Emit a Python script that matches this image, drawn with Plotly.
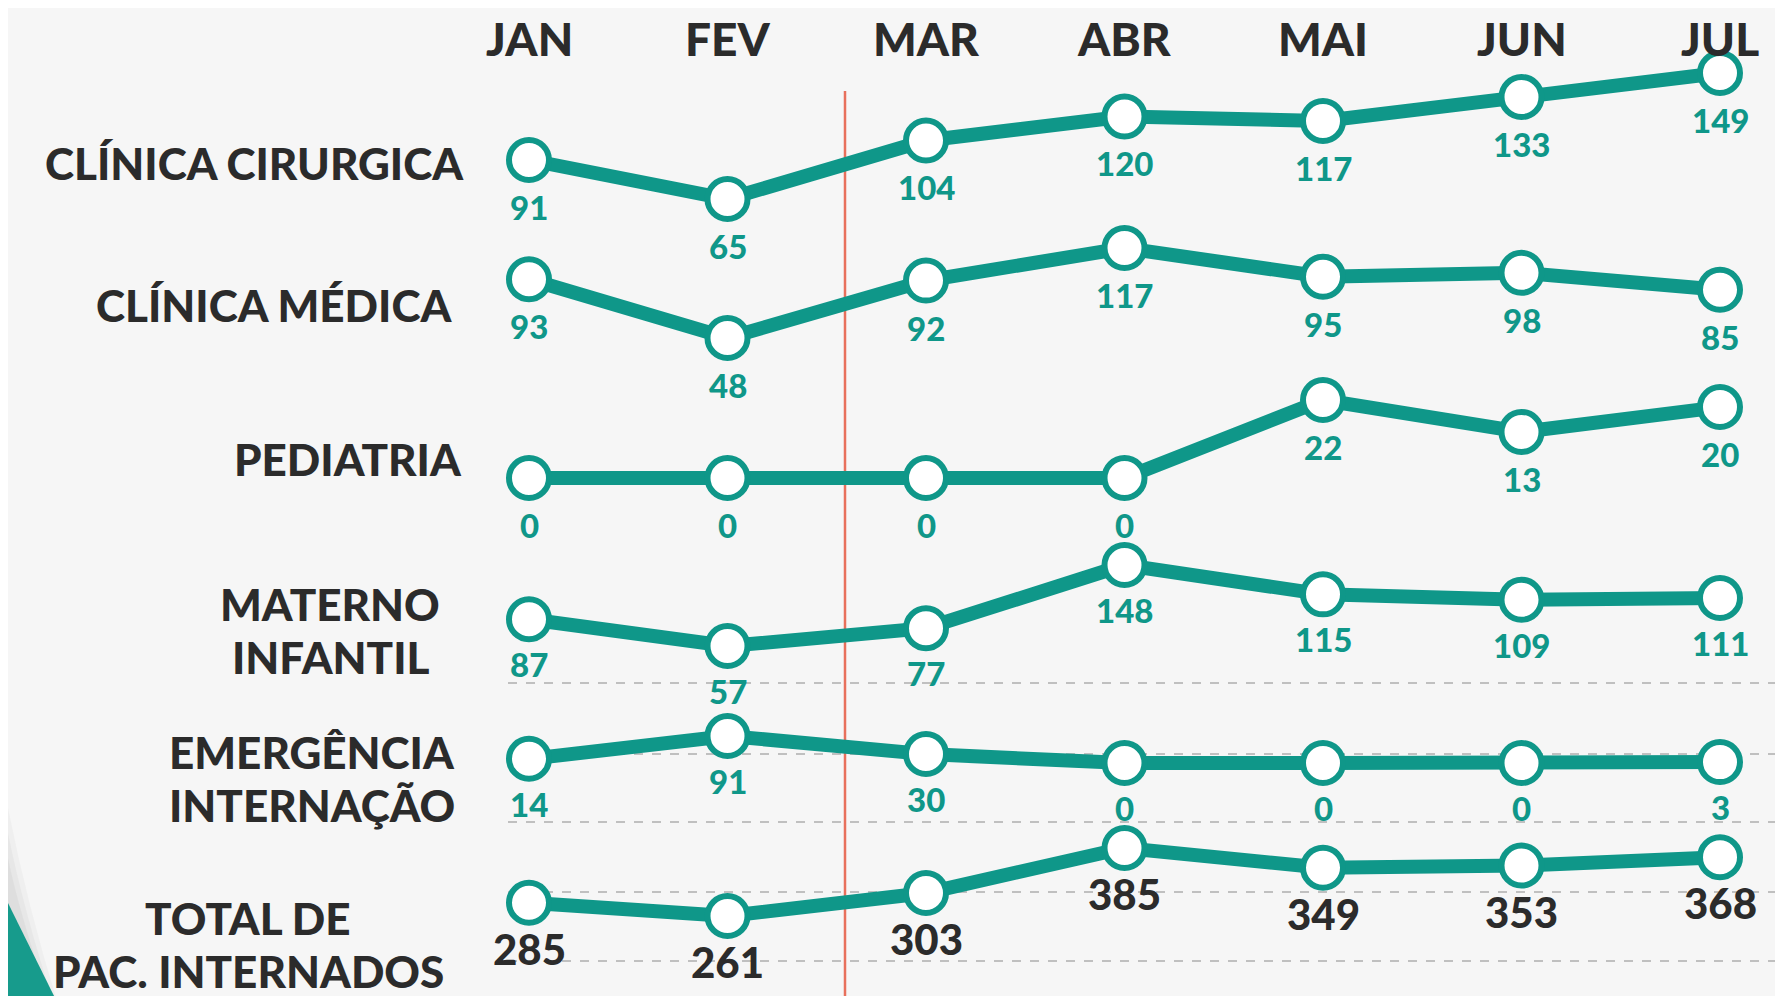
import plotly.graph_objects as go

# ---------------- data ----------------
months = ["JAN", "FEV", "MAR", "ABR", "MAI", "JUN", "JUL"]
row_names = [["CLÍNICA CIRURGICA"], ["CLÍNICA MÉDICA"], ["PEDIATRIA"],
             ["MATERNO", "INFANTIL"], ["EMERGÊNCIA", "INTERNAÇÃO"],
             ["TOTAL DE", "PAC. INTERNADOS"]]
clinica_cirurgica = [91, 65, 104, 120, 117, 133, 149]
clinica_medica = [93, 48, 92, 117, 95, 98, 85]
pediatria = [0, 0, 0, 0, 22, 13, 20]
materno_infantil = [87, 57, 77, 148, 115, 109, 111]
emergencia_internacao = [14, 91, 30, 0, 0, 0, 3]
total_internados = [285, 261, 303, 385, 349, 353, 368]
series = [clinica_cirurgica, clinica_medica, pediatria,
          materno_infantil, emergencia_internacao, total_internados]

# ---------------- styles / layout ----------------
W, H = 1783, 996
TEAL = "#0f9789"
DARK = "#2b2b2b"
BG = "#f6f6f6"
FONT = "Lato"
PAD = 22          # px of padding around each row band (keeps thick lines unclipped)
TXT_OFF = 8       # vertical correction for the font's line box
LABEL_SIZE = 44

# pixel band for each row: (pixel of min value, pixel of max value)
row_bands = [(191, 65), (330, 240), (470, 392), (638, 557), (755, 728), (908, 840)]
# label lines: (x px, y px, anchor) for each line
label_pos = [
    [(458, 163, "right")],
    [(446, 305, "right")],
    [(456, 459, "right")],
    [(322, 604, "center"), (322, 657, "center")],
    [(304, 752, "center"), (304, 805, "center")],
    [(240, 918, "center"), (240, 971, "center")]]
label_shift = [-47, -47, -47, -45, -45, -46]

x_first, x_step = 521, 198.5
x_range = [-x_first / x_step, (W - x_first) / x_step]

fig = go.Figure()
layout_axes = {}
annotations = []

for i, vals in enumerate(series):
    ax = "y" if i == 0 else f"y{i+1}"
    axkey = "yaxis" if i == 0 else f"yaxis{i+1}"
    pmin, pmax = row_bands[i]
    vmin, vmax = min(vals), max(vals)
    k = (vmax - vmin) / (pmin - pmax)
    layout_axes[axkey] = dict(domain=[1 - (pmin + PAD) / H, 1 - (pmax - PAD) / H],
                              range=[vmin - PAD * k, vmax + PAD * k],
                              visible=False, fixedrange=True)
    fig.add_trace(go.Scatter(
        x=list(range(len(months))), y=vals, yaxis=ax, xaxis="x",
        mode="lines+markers", cliponaxis=False, showlegend=False,
        line=dict(color=TEAL, width=14),
        marker=dict(size=40, color="white", line=dict(color=TEAL, width=6)),
        hoverinfo="skip"))
    is_total = i == len(series) - 1
    for j, v in enumerate(vals):
        annotations.append(dict(
            x=j, y=v, xref="x", yref=ax, text=str(v), showarrow=False,
            yshift=label_shift[i],
            font=dict(family=FONT, size=42 if is_total else 33,
                      color=DARK if is_total else TEAL, weight=900)))
    for line_txt, (lx, ly, anc) in zip(row_names[i], label_pos[i]):
        annotations.append(dict(
            x=lx / W, y=1 - (ly - TXT_OFF) / H, xref="paper", yref="paper",
            text=line_txt, showarrow=False, xanchor=anc, yanchor="middle",
            font=dict(family=FONT, size=LABEL_SIZE, color=DARK, weight=900)))

for j, m in enumerate(months):
    annotations.append(dict(
        x=j, y=1 - 1 / H, xref="x", yref="paper", text=m,
        showarrow=False, yanchor="top",
        font=dict(family=FONT, size=46, color=DARK, weight=900)))

shapes = []
# dashed guide lines
for py in [675, 746, 814, 884, 953]:
    shapes.append(dict(type="line", xref="paper", yref="paper",
                       x0=500 / W, x1=1, y0=1 - py / H, y1=1 - py / H,
                       line=dict(color="#8a8a8a", width=1.2, dash="dash"),
                       layer="below"))
# red vertical divider
shapes.append(dict(type="line", xref="paper", yref="paper",
                   x0=837 / W, x1=837 / W, y0=1 - 83 / H, y1=0,
                   line=dict(color="#e8705c", width=2.5), layer="below"))
# page-curl shadow and teal corner
for k, op in enumerate([0.05, 0.06, 0.08]):
    shapes.append(dict(type="path", xref="paper", yref="paper",
                       path=f"M 0 {1-(800+k*25)/H} Q {(20-k*5)/W} {1-900/H} {(50-k*4)/W} 0 L 0 0 Z",
                       fillcolor="#7a7a7a", opacity=op, line=dict(width=0),
                       layer="below"))
shapes.append(dict(type="path", xref="paper", yref="paper",
                   path=f"M 0 {1-895/H} L {50/W} 0 L 0 0 Z",
                   fillcolor="#179b8c", line=dict(width=0), layer="above"))

fig.update_layout(
    width=W, height=H, margin=dict(l=0, r=0, t=0, b=0),
    paper_bgcolor=BG, plot_bgcolor=BG,
    xaxis=dict(domain=[0, 1], range=x_range, visible=False, fixedrange=True),
    annotations=annotations, shapes=shapes, showlegend=False,
    **layout_axes)

fig.write_html("out.html")
